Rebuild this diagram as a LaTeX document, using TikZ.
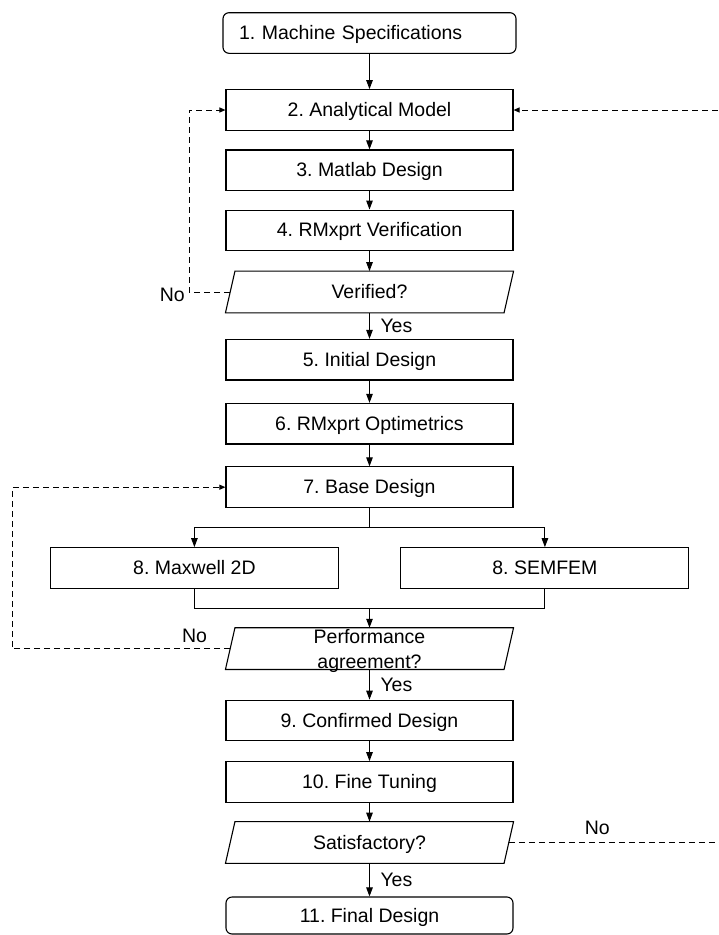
\documentclass[tikz,border=0pt]{standalone}
\usepackage{fontspec}
\setmainfont{Liberation Sans}
\usetikzlibrary{arrows.meta}
\frenchspacing
\newcommand\mainsz{\fontsize{19.5pt}{24.5pt}\selectfont}
\newcommand\paraframe[1]{\draw[edgeline] ([xshift=9.5pt]#1.north west) -- (#1.north east) -- ([xshift=-9.5pt]#1.south east) -- (#1.south west) -- cycle;}
\begin{document}
\begin{tikzpicture}[x=1pt,y=-1pt,
  edgeline/.style={line width=1.1pt, line join=miter},
  box/.style={draw, edgeline, minimum width=287pt, minimum height=40.6pt, inner sep=0pt, font=\mainsz, text height=14pt, text depth=1pt},
  rbox/.style={box, rounded corners=6pt},
  para/.style={box, draw=none},
  conn/.style={line width=1pt},
  arr/.style={conn, -{Triangle[length=9pt,width=6.5pt]}},
  dsh/.style={line width=1pt, dash pattern=on 6pt off 4pt},
  darr/.style={dsh, -{Triangle[length=6pt,width=5pt]}},
  lbl/.style={font=\mainsz, inner sep=0pt},
]
\useasboundingbox (0,0) rectangle (719,935);

\node[rbox, minimum width=293pt, text width=261pt, align=left] (b1) at (369.5,33) {1. Machine Specifications};
\node[box] (b2) at (369.5,110) {2. Analytical Model};
\node[box] (b3) at (369.5,170.3) {3. Matlab Design};
\node[box] (b4) at (369.5,230.4) {4. RMxprt Verification};
\node[para] (ver) at (369.5,292) {Verified?};
\node[box] (b5) at (369.5,359.7) {5. Initial Design};
\node[box] (b6) at (369.5,423.7) {6. RMxprt Optimetrics};
\node[box] (b7) at (369.5,487.2) {7. Base Design};
\node[box, minimum width=288pt] (maxw) at (194.4,568) {8. Maxwell 2D};
\node[box, minimum width=288pt] (semf) at (544.9,568) {8. SEMFEM};
\node[para] (perf) at (369.5,648.6) {};
\node[lbl, align=center, yshift=-2.6pt] (perftxt) at (perf.center) {Performance\\agreement?};
\node[box] (b9) at (369.5,720.5) {9. Confirmed Design};
\node[box] (b10) at (369.5,782) {10. Fine Tuning};
\node[para] (sat) at (369.5,842.5) {Satisfactory?};
\node[rbox, minimum height=37pt] (b11) at (369.5,915.5) {11. Final Design};

\paraframe{ver}
\paraframe{perf}
\paraframe{sat}

\draw[arr] (b1) -- (b2);
\draw[arr] (b2) -- (b3);
\draw[arr] (b3) -- (b4);
\draw[arr] (b4.south) -- (ver.north);
\draw[arr] (ver.south) -- node[lbl, right=10.5pt] {Yes} (b5.north);
\draw[arr] (b5) -- (b6);
\draw[arr] (b6) -- (b7);
\coordinate (split) at (369.5,527.3);
\draw[conn] (b7.south) -- (split);
\draw[arr] (split) -| (maxw.north);
\draw[arr] (split) -| (semf.north);
\coordinate (merge) at (369.5,608.3);
\draw[conn] (maxw.south) |- (merge);
\draw[conn] (semf.south) |- (merge);
\draw[arr] (merge) -- (perf.north);
\draw[arr] (perf.south) -- node[lbl, right=10.5pt] {Yes} (b9.north);
\draw[arr] (b9) -- (b10);
\draw[arr] (b10.south) -- (sat.north);
\draw[arr] (sat.south) -- node[lbl, right=10.5pt] {Yes} (b11.north);

\coordinate (lx1) at (189.3,292);
\draw[darr] ([xshift=4.75pt]ver.west) -- (lx1) node[lbl, anchor=east, xshift=-4pt, yshift=-3.3pt] {No} |- (b2.west);
\coordinate (lx2) at (12.3,648.6);
\draw[darr] ([xshift=4.75pt]perf.west) -- node[lbl, pos=0.164, above=5pt] {No} (lx2) |- (b7.west);
\coordinate (rx) at (722,842.5);
\draw[darr] ([xshift=-4.75pt]sat.east) -- node[lbl, pos=0.415, above=7.5pt] {No} (rx) |- (b2.east);
\end{tikzpicture}
\end{document}
